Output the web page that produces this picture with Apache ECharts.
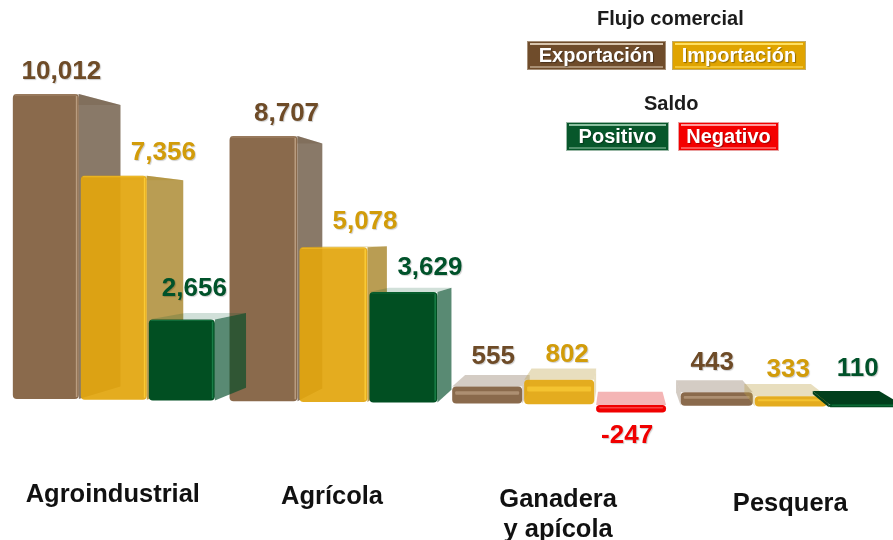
<!DOCTYPE html>
<html>
<head>
<meta charset="utf-8">
<title>Flujo comercial</title>
<script src="https://cdn.jsdelivr.net/npm/echarts@6/dist/echarts.min.js"></script>
<style>
	html, body { margin: 0; padding: 0; background: #fff; }
	#main { width: 893px; height: 540px; }
</style>
</head>
<body>
<div id="main"></div>
<script type="text/javascript">
	// datos
	var categories = ['Agroindustrial', 'Agrícola', 'Ganadera\ny apícola', 'Pesquera'];
	var exportacion = [10012, 8707, 555, 443];
	var importacion = [7356, 5078, 802, 333];
	var saldo = [2656, 3629, -247, 110];

	var FONT = '"Liberation Sans", Arial, sans-serif';

	// colores: frente, lado, tapa, brillo, texto
	var BROWN = { front: '#8a6a4c', side: 'rgba(108,88,66,0.8)', top: 'rgba(120,95,70,0.32)', light: '#c4a98c', text: '#6e4b27' };
	var GOLD = { front: 'rgba(226,166,14,0.93)', side: 'rgba(168,132,40,0.8)', top: 'rgba(190,160,70,0.35)', light: '#ffd23c', text: '#d29c0a' };
	var GREEN = { front: '#014f22', side: 'rgba(0,75,40,0.65)', top: 'rgba(0,85,45,0.18)', light: '#1e8a50', text: '#00522a' };
	var RED = { front: '#f00000', side: 'rgba(225,60,60,0.4)', top: 'rgba(225,60,60,0.38)', light: '#ff7070', text: '#f00000' };

	// ajuste de las etiquetas de valor respecto al frente de cada barra
	var labelDx = [[15.5, 23, 6, -4.5], [49.5, 31.5, 8, -2.5], [12.5, 26.5, -4, -7]];
	var labelDy = [[22, 22, 30, 29], [23, 25, 25, 27], [31, 24, 23, 35]];

	// perspectiva del dibujo original
	var VX = 620, VY = 235, DEPTH = 0.077;
	function back(p) {
		return [p[0] + DEPTH * (VX - p[0]), p[1] + DEPTH * (VY - p[1])];
	}
	function warpX(x) {
		return x + 5.9e-5 * (x - 114) * (x - 790.5);
	}

	function renderBar(slot, baseStyle) {
		return function (params, api) {
			var i = api.value(0), v = api.value(1);
			var origin = api.coord([i, 0]);
			var top = api.coord([i, v]);
			var cx0 = warpX(origin[0]);
			var step = 68 + (cx0 - 114) * 0.0089;
			var cx = cx0 + (slot - 1) * step;
			var w = step - 2;
			var tilt = (cx - 45) * 0.01;
			var y0 = origin[1] + tilt, y1 = top[1] + tilt;
			var yTop = Math.min(y0, y1), yBot = Math.max(y0, y1);
			var x0 = cx - w / 2, x1 = cx + w / 2;
			var style = baseStyle;
			if (slot === 2 && v < 0) style = RED;

			var tl = back([x0, yTop]), tr = back([x1, yTop]), bl = back([x0, yBot]), br = back([x1, yBot]);
			var h = yBot - yTop;
			var children = [];
			// caras traseras
			var topFill = (slot === 2 && v > 0 && h < 10) ? '#013f1c' : style.top;
			var sideFill = h < 30 ? topFill : style.side;
			children.push({ type: 'polygon', shape: { points: [[x0, yTop], [x1, yTop], tr, tl] }, style: { fill: topFill } });
			if (br[0] > x1) {
				children.push({ type: 'polygon', shape: { points: [[x1, yTop], tr, br, [x1, yBot]] }, style: { fill: sideFill } });
			}
			if (bl[0] < x0) {
				children.push({ type: 'polygon', shape: { points: [[x0, yTop], tl, bl, [x0, yBot]] }, style: { fill: sideFill } });
			}
			// frente
			var r = Math.min(4, h / 2);
			children.push({ type: 'rect', shape: { x: x0, y: yTop, width: w, height: h, r: r }, style: { fill: style.front } });
			if (h < 30) {
				// barras bajas: franja clara arriba
				children.push({ type: 'rect', shape: { x: x0 + 3, y: yTop + h * 0.28, width: w - 6, height: Math.max(1, h * 0.2), r: 1 }, style: { fill: style.light, opacity: 0.6 } });
			} else {
				children.push({ type: 'rect', shape: { x: x1 - 3, y: yTop + 2, width: 1.5, height: h - 4 }, style: { fill: style.light, opacity: 0.8 } });
				children.push({ type: 'rect', shape: { x: x0 + 2, y: yTop + 0.5, width: w - 4, height: 1 }, style: { fill: style.light, opacity: 0.5 } });
			}
			// etiqueta
			var labelY = v < 0 ? yBot + labelDy[slot][i] : yTop - labelDy[slot][i];
			children.push({
				type: 'text',
				style: {
					x: cx + labelDx[slot][i], y: labelY,
					text: echarts.format.addCommas(v),
					fill: style.text, font: 'bold 26px ' + FONT,
					align: 'center', verticalAlign: 'middle',
					textShadowColor: 'rgba(0,0,0,0.2)', textShadowBlur: 1, textShadowOffsetX: 1, textShadowOffsetY: 1
				}
			});
			return { type: 'group', children: children };
		};
	}

	function barSeries(name, values, slot, style) {
		return {
			name: name,
			type: 'custom',
			clip: false,
			renderItem: renderBar(slot, style),
			encode: { x: 0, y: 1 },
			data: values.map(function (v, i) { return [i, v]; })
		};
	}

	// leyenda
	var legendTitles = ['Flujo comercial', 'Saldo'];
	var legendNames = ['Exportación', 'Importación', 'Positivo', 'Negativo'];
	var legendColors = [
		{ base: '#6f4c2b', edge: '#a58f78', hi: '#d9c6ae' },
		{ base: '#e0a400', edge: '#c4ad66', hi: '#ffe060' },
		{ base: '#07572b', edge: '#9ab8a6', hi: '#8cc0a0' },
		{ base: '#f40000', edge: '#e8a0a0', hi: '#ff9a9a' }
	];
	var legendBoxes = [[527, 41, 139, 29], [672, 41, 134, 29], [566, 122, 103, 29], [678, 122, 101, 29]];

	var graphics = [
		{ type: 'text', left: 597, top: 9, style: { text: legendTitles[0], fill: '#1c1c1c', font: 'bold 20px ' + FONT } },
		{ type: 'text', left: 644, top: 94, style: { text: legendTitles[1], fill: '#1c1c1c', font: 'bold 20px ' + FONT } }
	];
	legendNames.forEach(function (name, k) {
		var b = legendBoxes[k], c = legendColors[k];
		graphics.push({ type: 'rect', shape: { x: b[0], y: b[1], width: b[2], height: b[3] }, style: { fill: c.edge } });
		graphics.push({ type: 'rect', shape: { x: b[0] + 1, y: b[1] + 1, width: b[2] - 2, height: b[3] - 2 }, style: { fill: c.base } });
		graphics.push({ type: 'rect', shape: { x: b[0] + 3, y: b[1] + 2, width: b[2] - 6, height: 2 }, style: { fill: c.hi } });
		graphics.push({ type: 'rect', shape: { x: b[0] + 3, y: b[1] + b[3] - 4, width: b[2] - 6, height: 2 }, style: { fill: c.hi, opacity: 0.55 } });
		graphics.push({
			type: 'text', x: b[0] + b[2] / 2, y: b[1] + b[3] / 2 + 1,
			style: {
				text: name, fill: '#fff', font: 'bold 20px ' + FONT, align: 'center', verticalAlign: 'middle',
				textShadowColor: 'rgba(0,0,0,0.35)', textShadowBlur: 1, textShadowOffsetX: 1, textShadowOffsetY: 1
			}
		});
	});

	// desplazamiento de cada nombre de categoria
	var catPadding = [[0, 2, 0, 0], [2, 15, 0, 0], [5, 14, 0, 0], [9, 1, 0, 0]];

	var myChart = echarts.init(document.getElementById('main'), null, { renderer: 'canvas' });

	var option = {
		animation: false,
		backgroundColor: '#fff',
		grid: { left: 1, top: 33.5, width: 902.6, height: 396, outerBoundsMode: 'none' },
		xAxis: {
			type: 'category',
			data: categories.map(function (c, i) {
				return { value: c, textStyle: { padding: catPadding[i] } };
			}),
			axisLine: { show: false, onZero: false },
			axisTick: { show: false },
			splitLine: { show: false },
			axisLabel: {
				interval: 0, margin: 50, hideOverlap: false,
				color: '#111', fontFamily: FONT, fontWeight: 'bold', fontSize: 25.5, lineHeight: 30
			}
		},
		yAxis: { type: 'value', min: -1000, max: 12000, show: false, splitLine: { show: false } },
		graphic: graphics,
		series: [
			barSeries('Exportación', exportacion, 0, BROWN),
			barSeries('Importación', importacion, 1, GOLD),
			barSeries('Saldo', saldo, 2, GREEN)
		]
	};

	myChart.setOption(option);
</script>
</body>
</html>
